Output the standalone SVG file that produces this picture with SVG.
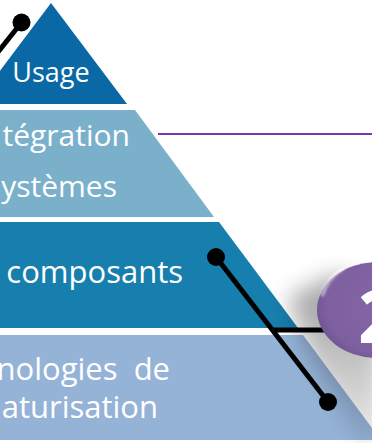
<svg xmlns="http://www.w3.org/2000/svg" width="372" height="443" viewBox="0 0 372 443">
<defs>
<style>
.t{font-family:"Open Sans","Noto Sans","Liberation Sans",sans-serif;fill:#fff}
.c{stroke:#000;stroke-width:5;fill:none}
.dot{fill:#000}
</style>
<filter id="blur" x="-50%" y="-50%" width="200%" height="200%"><feGaussianBlur stdDeviation="11"/></filter>
<filter id="soft" x="-20%" y="-20%" width="140%" height="140%"><feGaussianBlur stdDeviation="1.5"/></filter>
<radialGradient id="bub" cx="0.6" cy="0.45" r="0.65">
<stop offset="0" stop-color="#8567A9"/>
<stop offset="0.8" stop-color="#7E60A0"/>
<stop offset="1" stop-color="#6D5190"/>
</radialGradient>
<linearGradient id="shg" x1="0" y1="0" x2="0" y2="1">
<stop offset="0" stop-color="#000" stop-opacity="0.38"/>
<stop offset="1" stop-color="#000" stop-opacity="0.08"/>
</linearGradient>
</defs>
<rect width="372" height="443" fill="#fff"/>
<g id="tier1">
<polygon points="51,3 127,104 -25,104" fill="#0A68A5"/>
<text class="t" x="51" y="82" font-size="27" text-anchor="middle">Usage</text>
</g>
<g id="tier2">
<polygon points="-10,110 135,110 214,217 -10,217" fill="#7BB0CB"/>
<text class="t" x="130" y="146" font-size="30" text-anchor="end">tégration</text>
<text class="t" x="117" y="197" font-size="30" text-anchor="end">ystèmes</text>
</g>
<g id="tier3">
<polygon points="-10,222 219,222 298,328 -10,328" fill="#177FAE"/>
<text class="t" x="183" y="283" font-size="31" text-anchor="end">composants</text>
</g>
<g id="tier4">
<polygon points="-10,335 303,335 381,440 -10,440" fill="#95B3D7"/>
<text class="t" x="170" y="380" font-size="31" text-anchor="end" xml:space="preserve" style="white-space:pre">nologies  de</text>
<text class="t" x="158" y="418" font-size="31" text-anchor="end">aturisation</text>
</g>
<g id="shadow">
<polygon points="288,298 335,275 380,290 380,450 358,440 308,352" fill="url(#shg)" filter="url(#blur)"/>
</g>
<g id="connectors">
<line class="c" x1="-2" y1="52" x2="21.5" y2="22.5"/>
<circle class="dot" cx="21.5" cy="22.5" r="9"/>
<line class="c" x1="216" y1="257" x2="328" y2="402"/>
<line class="c" x1="272" y1="330" x2="326" y2="330"/>
<circle class="dot" cx="216" cy="257" r="9"/>
<circle class="dot" cx="328" cy="402" r="9"/>
<line x1="158" y1="134" x2="372" y2="134" stroke="#7A36AE" stroke-width="2.2"/>
</g>
<g id="bubble">
<ellipse cx="377" cy="310" rx="60" ry="48" fill="url(#bub)"/>
<path d="M322,296 C326,283 334,274 344,268" stroke="#fff" stroke-width="2.5" fill="none" opacity="0.8" filter="url(#soft)"/>
<text class="t" x="358" y="343" font-size="74" font-weight="bold">2</text>
</g>
</svg>
